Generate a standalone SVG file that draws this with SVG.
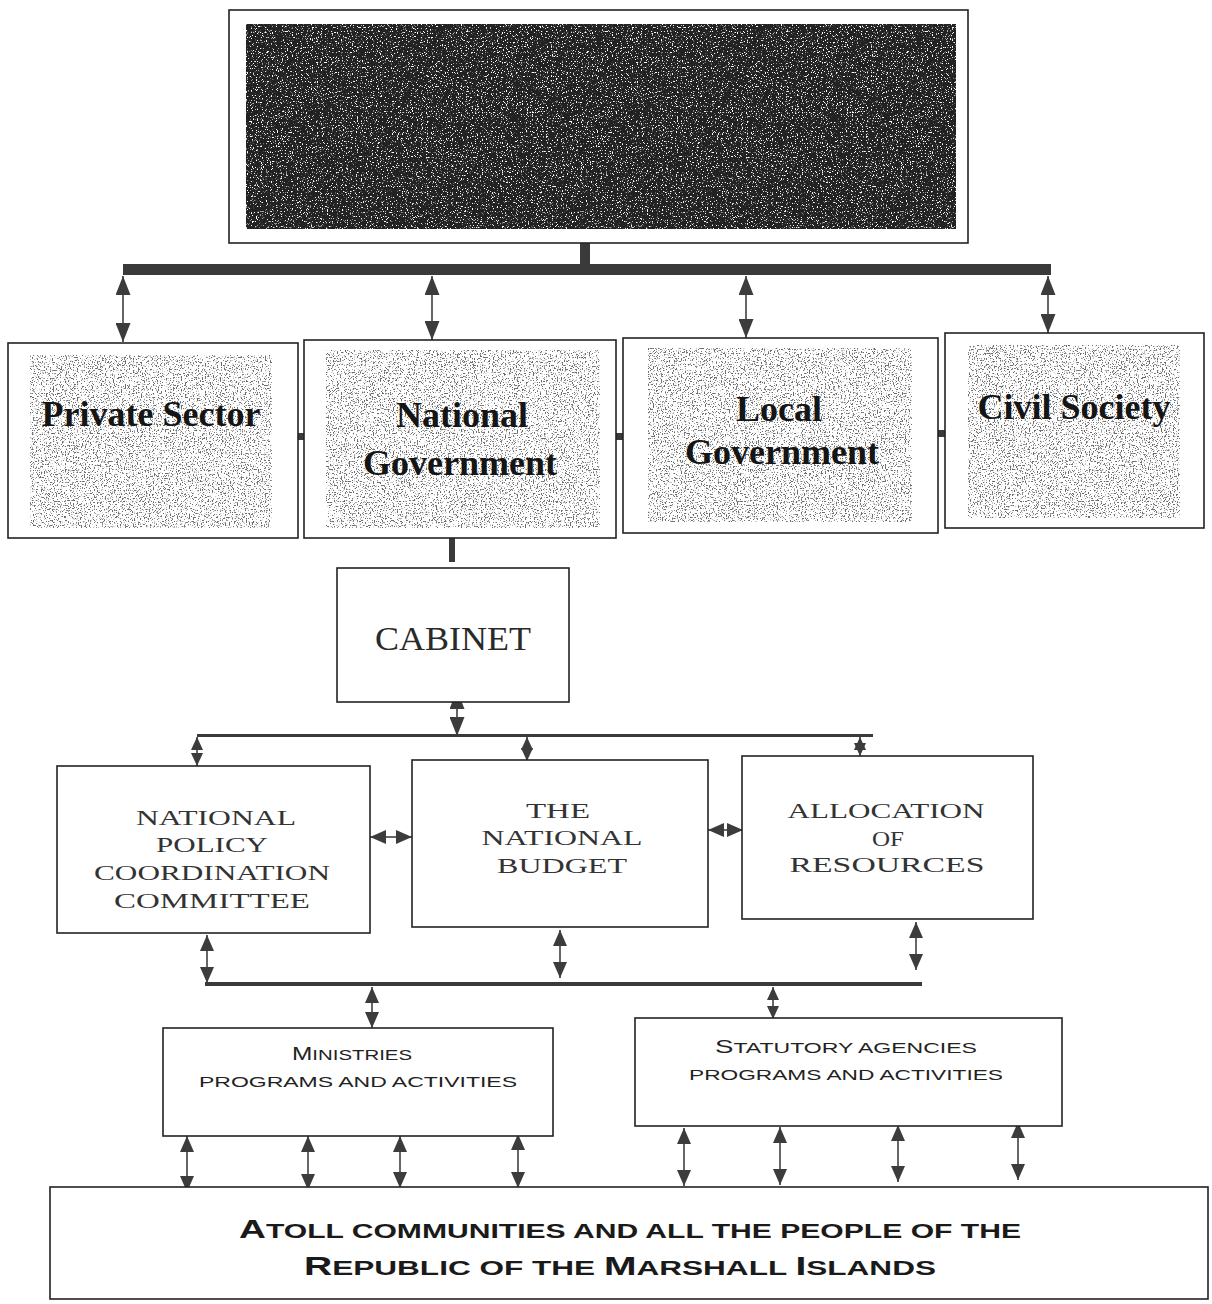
<svg xmlns="http://www.w3.org/2000/svg" width="1212" height="1304" viewBox="0 0 1212 1304">
<style>
.box{fill:#fff;stroke:#222;stroke-width:1.6}
.ln{stroke:#333;stroke-width:1.5;fill:none}
.bar{fill:#3a3a3a}
.big{font-family:"Liberation Serif",serif;font-weight:bold;font-size:36px;fill:#151515;text-anchor:middle}
.ser{font-family:"Liberation Serif",serif;font-size:21px;fill:#333;text-anchor:middle}
.cab{font-family:"Liberation Serif",serif;font-size:33px;fill:#2a2a2a;text-anchor:middle}
.sc{font-family:"Liberation Sans",sans-serif;fill:#222;text-anchor:middle}
.scb{font-family:"Liberation Sans",sans-serif;font-weight:bold;fill:#1a1a1a;text-anchor:middle}
</style>
<defs>
<filter id="stip" x="0" y="0" width="1" height="1">
<feTurbulence type="fractalNoise" baseFrequency="0.75" numOctaves="2" seed="4"/>
<feColorMatrix type="matrix" values="0 0 0 0 0.15  0 0 0 0 0.15  0 0 0 0 0.15  -9 0 0 0 4.0"/>
<feComposite in2="SourceGraphic" operator="in"/>
</filter>
<filter id="speck" x="0" y="0" width="1" height="1">
<feTurbulence type="fractalNoise" baseFrequency="0.8" numOctaves="2" seed="9"/>
<feColorMatrix type="matrix" values="0 0 0 0 1  0 0 0 0 1  0 0 0 0 1  -9 0 0 0 3.6"/>
<feComposite in2="SourceGraphic" operator="in"/>
</filter>
<marker id="hd" viewBox="0 0 10 10" refX="10" refY="5" markerWidth="19" markerHeight="15" markerUnits="userSpaceOnUse" orient="auto-start-reverse" preserveAspectRatio="none"><path d="M0,0L10,5L0,10z" fill="#3c3c3c"/></marker>
<marker id="hm" viewBox="0 0 10 10" refX="10" refY="5" markerWidth="16" markerHeight="14" markerUnits="userSpaceOnUse" orient="auto-start-reverse" preserveAspectRatio="none"><path d="M0,0L10,5L0,10z" fill="#3c3c3c"/></marker>
<marker id="hs" viewBox="0 0 10 10" refX="10" refY="5" markerWidth="13" markerHeight="12" markerUnits="userSpaceOnUse" orient="auto-start-reverse" preserveAspectRatio="none"><path d="M0,0L10,5L0,10z" fill="#3c3c3c"/></marker>
</defs>
<rect width="1212" height="1304" fill="#fff"/>

<g id="connectors">
<rect class="bar" x="580" y="243" width="10" height="24"/>
<rect class="bar" x="123" y="264" width="928" height="11"/>
<line class="ln" x1="123" y1="276" x2="123" y2="342" marker-start="url(#hd)" marker-end="url(#hd)"/>
<line class="ln" x1="432" y1="276" x2="432" y2="340" marker-start="url(#hd)" marker-end="url(#hd)"/>
<line class="ln" x1="746" y1="276" x2="746" y2="338" marker-start="url(#hd)" marker-end="url(#hd)"/>
<line class="ln" x1="1048" y1="276" x2="1048" y2="333" marker-start="url(#hd)" marker-end="url(#hd)"/>
<rect class="bar" x="297" y="433" width="8" height="7"/>
<rect class="bar" x="616" y="433" width="8" height="7"/>
<rect class="bar" x="937" y="430" width="8" height="7"/>
<rect class="bar" x="449" y="538" width="6" height="24"/>
<line class="ln" x1="457" y1="690" x2="457" y2="736" marker-start="url(#hd)" marker-end="url(#hd)"/>
<rect class="bar" x="197" y="734" width="676" height="3"/>
<line class="ln" x1="197" y1="737" x2="197" y2="766" marker-start="url(#hs)" marker-end="url(#hs)"/>
<line class="ln" x1="527" y1="737" x2="527" y2="761" marker-start="url(#hs)" marker-end="url(#hs)"/>
<line class="ln" x1="860" y1="737" x2="860" y2="756" marker-start="url(#hs)" marker-end="url(#hs)"/>
<line class="ln" x1="370" y1="837" x2="412" y2="837" marker-start="url(#hm)" marker-end="url(#hm)"/>
<line class="ln" x1="708" y1="830" x2="743" y2="830" marker-start="url(#hm)" marker-end="url(#hm)"/>
<line class="ln" x1="207" y1="935" x2="207" y2="983" marker-start="url(#hm)" marker-end="url(#hm)"/>
<line class="ln" x1="560" y1="930" x2="560" y2="978" marker-start="url(#hm)" marker-end="url(#hm)"/>
<line class="ln" x1="916" y1="922" x2="916" y2="970" marker-start="url(#hm)" marker-end="url(#hm)"/>
<rect class="bar" x="205" y="982" width="717" height="4"/>
<line class="ln" x1="372" y1="987" x2="372" y2="1028" marker-start="url(#hm)" marker-end="url(#hm)"/>
<line class="ln" x1="773" y1="987" x2="773" y2="1019" marker-start="url(#hs)" marker-end="url(#hs)"/>
<line class="ln" x1="187" y1="1136" x2="187" y2="1192" marker-start="url(#hm)" marker-end="url(#hm)"/>
<line class="ln" x1="308" y1="1136" x2="308" y2="1190" marker-start="url(#hm)" marker-end="url(#hm)"/>
<line class="ln" x1="400" y1="1136" x2="400" y2="1188" marker-start="url(#hm)" marker-end="url(#hm)"/>
<line class="ln" x1="518" y1="1134" x2="518" y2="1188" marker-start="url(#hm)" marker-end="url(#hm)"/>
<line class="ln" x1="684" y1="1128" x2="684" y2="1186" marker-start="url(#hm)" marker-end="url(#hm)"/>
<line class="ln" x1="780" y1="1127" x2="780" y2="1185" marker-start="url(#hm)" marker-end="url(#hm)"/>
<line class="ln" x1="898" y1="1125" x2="898" y2="1182" marker-start="url(#hm)" marker-end="url(#hm)"/>
<line class="ln" x1="1018" y1="1122" x2="1018" y2="1180" marker-start="url(#hm)" marker-end="url(#hm)"/>
</g>

<g id="top">
<rect class="box" x="229" y="10" width="739" height="233"/>
<rect x="246" y="24" width="710" height="205" fill="#222"/>
<rect x="246" y="24" width="710" height="205" fill="#fff" filter="url(#speck)"/>
</g>

<g id="private-sector">
<rect class="box" x="8" y="343" width="290" height="195"/>
<rect x="30" y="355" width="242" height="173" fill="#000" filter="url(#stip)"/>
<text class="big" x="151" y="426">Private Sector</text>
</g>

<g id="national-government">
<rect class="box" x="304" y="340" width="312" height="198"/>
<rect x="326" y="350" width="274" height="178" fill="#000" filter="url(#stip)"/>
<text class="big" x="462" y="427">National</text>
<text class="big" x="460" y="475">Government</text>
</g>

<g id="local-government">
<rect class="box" x="623" y="338" width="315" height="195"/>
<rect x="648" y="348" width="264" height="174" fill="#000" filter="url(#stip)"/>
<text class="big" x="779" y="421">Local</text>
<text class="big" x="782" y="464">Government</text>
</g>

<g id="civil-society">
<rect class="box" x="945" y="333" width="259" height="195"/>
<rect x="968" y="345" width="212" height="173" fill="#000" filter="url(#stip)"/>
<text class="big" x="1074" y="419">Civil Society</text>
</g>

<g id="cabinet">
<rect class="box" x="337" y="568" width="232" height="134"/>
<text class="cab" x="453" y="650" textLength="156" lengthAdjust="spacingAndGlyphs">CABINET</text>
</g>

<g id="npcc">
<rect class="box" x="57" y="766" width="313" height="167"/>
<text class="ser" x="216" y="825" textLength="160" lengthAdjust="spacingAndGlyphs">NATIONAL</text>
<text class="ser" x="212" y="852" textLength="112" lengthAdjust="spacingAndGlyphs">POLICY</text>
<text class="ser" x="212" y="880" textLength="236" lengthAdjust="spacingAndGlyphs">COORDINATION</text>
<text class="ser" x="212" y="908" textLength="196" lengthAdjust="spacingAndGlyphs">COMMITTEE</text>
</g>

<g id="national-budget">
<rect class="box" x="412" y="760" width="296" height="167"/>
<text class="ser" x="558" y="818" textLength="64" lengthAdjust="spacingAndGlyphs">THE</text>
<text class="ser" x="562" y="845" textLength="161" lengthAdjust="spacingAndGlyphs">NATIONAL</text>
<text class="ser" x="562" y="873" textLength="130" lengthAdjust="spacingAndGlyphs">BUDGET</text>
</g>

<g id="allocation">
<rect class="box" x="742" y="756" width="291" height="163"/>
<text class="ser" x="886" y="818" textLength="197" lengthAdjust="spacingAndGlyphs">ALLOCATION</text>
<text class="ser" x="888" y="846" textLength="32" lengthAdjust="spacingAndGlyphs">OF</text>
<text class="ser" x="887" y="872" textLength="195" lengthAdjust="spacingAndGlyphs">RESOURCES</text>
</g>

<g id="ministries">
<rect class="box" x="163" y="1028" width="390" height="108"/>
<text class="sc" x="352" y="1060" textLength="120" lengthAdjust="spacingAndGlyphs"><tspan font-size="18">M</tspan><tspan font-size="15">INISTRIES</tspan></text>
<text class="sc" x="358" y="1087" font-size="15" textLength="318" lengthAdjust="spacingAndGlyphs">PROGRAMS AND ACTIVITIES</text>
</g>

<g id="statutory">
<rect class="box" x="635" y="1018" width="427" height="108"/>
<text class="sc" x="846" y="1053" textLength="262" lengthAdjust="spacingAndGlyphs"><tspan font-size="18">S</tspan><tspan font-size="15">TATUTORY AGENCIES</tspan></text>
<text class="sc" x="846" y="1080" font-size="15" textLength="314" lengthAdjust="spacingAndGlyphs">PROGRAMS AND ACTIVITIES</text>
</g>

<g id="atoll">
<rect class="box" x="50" y="1187" width="1158" height="112"/>
<text class="scb" x="630" y="1238" textLength="782" lengthAdjust="spacingAndGlyphs"><tspan font-size="26">A</tspan><tspan font-size="21">TOLL COMMUNITIES AND ALL THE PEOPLE OF THE</tspan></text>
<text class="scb" x="620" y="1275" textLength="632" lengthAdjust="spacingAndGlyphs"><tspan font-size="26">R</tspan><tspan font-size="21">EPUBLIC OF THE </tspan><tspan font-size="26">M</tspan><tspan font-size="21">ARSHALL </tspan><tspan font-size="26">I</tspan><tspan font-size="21">SLANDS</tspan></text>
</g>
</svg>
